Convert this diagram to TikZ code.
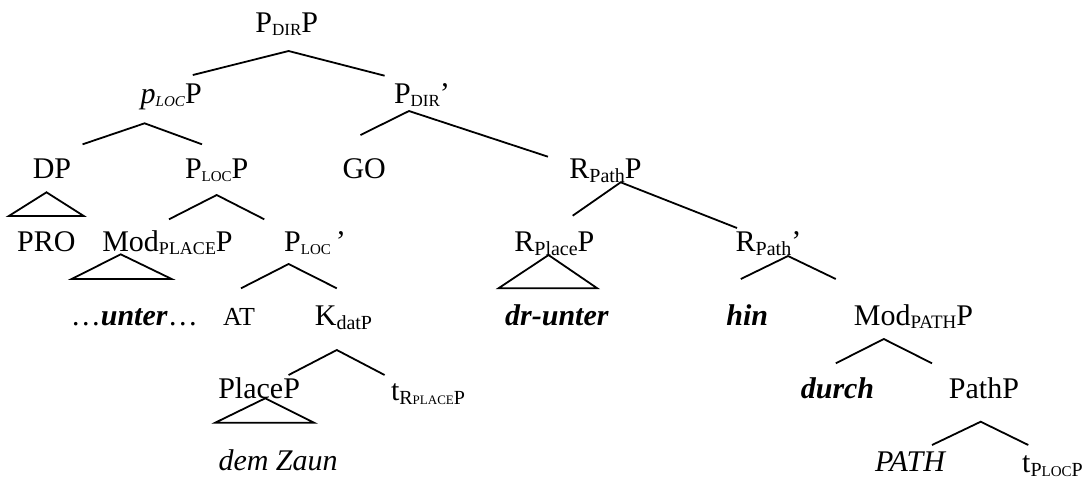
\documentclass[tikz,border=0pt]{standalone}
\usepackage{fontspec}
\setmainfont{Liberation Serif}
\newcommand{\sub}[1]{\raisebox{-2pt}{\fontsize{10}{10}\selectfont #1}}
\newcommand{\smc}[2][8.5]{\raisebox{-1.5pt}{\fontsize{#1}{#1}\selectfont #2}}

\begin{document}
\begin{tikzpicture} [
						x=0.5pt, y=-0.5pt,
						font=\fontsize{15}{18}\selectfont,
						every node/.style={anchor=base, inner sep=0pt},
						branch/.style={line width=0.9pt, line join=miter}
					]

\useasboundingbox (0,0) rectangle (1083,479);

\node (pdirp)    at (286.8,32.3)  {P\smc{DIR}P};
\node (plocp)    at (171.2,103.3) {\textit{p}\smc[7.5]{\textit{LOC}}P};
\node (pdirbar)  at (422,103.3)   {P\smc{DIR}’};
\node (dp)       at (52,178.3)    {DP};
\node (ploc)     at (216.7,178.3) {P\smc[7.5]{LOC}P};
\node (go)       at (364.2,178.3) {GO};
\node (rpath)    at (605.5,178.3) {R\sub{Path}P};
\node (pro)      at (46.3,251.5)  {PRO};
\node (modplace) at (167.5,251.5) {Mod\smc[9]{PLACE}P};
\node (plocbar)  at (315,251.5)   {P\smc[7.5]{LOC}\,’};
\node (rplace)   at (554.4,251.5) {R\sub{Place}P};
\node (rpathbar) at (768.5,251.5) {R\sub{Path}’};
\node (unter)    at (134.3,325)   {…\textbf{\textit{unter}}…};
\node (at)       at (239,325)     {\fontsize{13}{15}\selectfont AT};
\node (kdat)     at (343.5,325)   {K\sub{datP}};
\node (drunter)  at (557,325)     {\textbf{\textit{dr-unter}}};
\node (hin)      at (747.3,325)   {\textbf{\textit{hin}}};
\node (modpath)  at (913.5,325)   {Mod\smc[9.5]{PATH}P};
\node (placep)   at (259.1,398.3) {PlaceP};
\node (trplace)  at (428,400)     {t\sub{R{\fontsize{6.5}{6.5}\selectfont PLACE}P}};
\node (durch)    at (837.5,398.3) {\textbf{\textit{durch}}};
\node (pathp)    at (984,398.3)   {PathP};
\node (demzaun)  at (278.1,470)   {\textit{dem Zaun}};
\node (path)     at (910.7,471.7) {\textit{PATH}};
\node (tploc)    at (1052.5,472.5) {t\sub{P{\fontsize{7.5}{7.5}\selectfont LOC}P}};

\draw[branch] ([shift={(21.6,-28.3)}]plocp.base) -- ([shift={(1.8,18.7)}]pdirp.base) -- ([shift={(-37.4,-27.6)}]pdirbar.base);
\draw[branch] ([shift={(30.6,-34)}]dp.base) -- ([shift={(-26.6,20)}]plocp.base) -- ([shift={(-14.7,-34)}]ploc.base);
\draw[branch] ([shift={(-3.7,-43.3)}]go.base) -- ([shift={(-13,7.7)}]pdirbar.base) -- ([shift={(-57.5,-21.6)}]rpath.base);
\draw[branch] ([shift={(1.5,-32.2)}]modplace.base) -- ([shift={(0,16.7)}]ploc.base) -- ([shift={(-50.7,-32.2)}]plocbar.base);
\draw[branch] ([shift={(18.3,-35.8)}]rplace.base) -- ([shift={(15.2,4)}]rpath.base) -- ([shift={(-31.5,-23.5)}]rpathbar.base);
\draw[branch] ([shift={(2,-36.7)}]at.base) -- ([shift={(-26.4,12.5)}]plocbar.base) -- ([shift={(-6.7,-36.7)}]kdat.base);
\draw[branch] ([shift={(-6.5,-46)}]hin.base) -- ([shift={(19.5,4.5)}]rpathbar.base) -- ([shift={(-77.7,-46)}]modpath.base);
\draw[branch] ([shift={(29.5,-23.3)}]placep.base) -- ([shift={(-6.7,25)}]kdat.base) -- ([shift={(-43.4,-25)}]trplace.base);
\draw[branch] ([shift={(-1.7,-35)}]durch.base) -- ([shift={(-29.7,14)}]modpath.base) -- ([shift={(-52,-35)}]pathp.base);
\draw[branch] ([shift={(21.3,-26.7)}]path.base) -- ([shift={(-3.3,23.4)}]pathp.base) -- ([shift={(-24.2,-27.5)}]tploc.base);

\draw[branch] ([shift={(-5.5,14)}]dp.base) -- ([shift={(-37.5,-35.5)}]pro.base) -- ([shift={(37.5,-35.5)}]pro.base) -- cycle;
\draw[branch] ([shift={(-46.8,2.8)}]modplace.base) -- ([shift={(-62.6,-46)}]unter.base) -- ([shift={(37.4,-46)}]unter.base) -- cycle;
\draw[branch] ([shift={(-5.9,3.5)}]rplace.base) -- ([shift={(-58.5,-36.7)}]drunter.base) -- ([shift={(40.3,-36.7)}]drunter.base) -- cycle;
\draw[branch] ([shift={(6.1,0)}]placep.base) -- ([shift={(-62.9,-47.3)}]demzaun.base) -- ([shift={(35.9,-47.3)}]demzaun.base) -- cycle;
\end{tikzpicture}
\end{document}
